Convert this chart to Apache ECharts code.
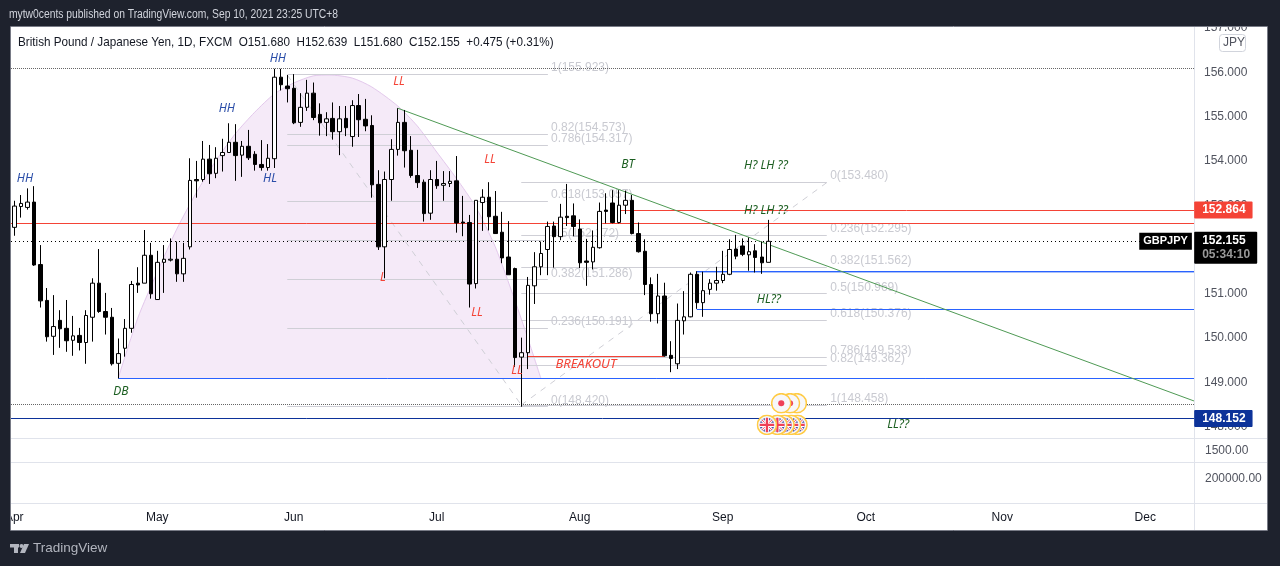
<!DOCTYPE html>
<html><head><meta charset="utf-8">
<style>html,body{margin:0;padding:0;background:#1E222D}#c{width:1280px;height:566px}</style>
<script src="https://cdn.jsdelivr.net/npm/echarts@6/dist/echarts.min.js"></script>
</head><body><div id="c"></div>
<script>
const opens=[152.47,152.94,152.92,153.04,151.63,150.82,150.01,150.37,150.19,149.92,150.03,149.87,150.44,151.21,150.57,150.44,149.40,149.74,150.19,151.21,151.21,151.84,150.84,151.68,151.73,151.75,151.42,152.03,153.55,153.55,154.01,153.69,154.09,154.16,154.39,154.10,154.30,154.12,153.89,153.82,154.02,155.86,155.66,155.61,154.84,155.18,155.50,155.02,154.84,154.93,154.63,154.93,154.52,155.22,154.91,154.77,153.44,152.03,153.55,154.23,154.84,154.21,153.64,153.49,152.79,153.55,153.42,153.46,153.52,152.59,152.58,151.20,153.03,153.15,152.72,152.36,151.80,151.54,149.54,149.64,151.15,151.58,151.97,152.50,152.26,152.72,152.73,152.43,151.71,151.69,152.01,152.86,153.02,152.58,152.97,153.08,152.33,151.93,151.18,150.52,150.92,149.58,149.39,150.36,150.45,151.41,150.77,151.07,151.21,151.27,151.41,151.98,152.05,151.85,151.94,151.80,151.68];
const closes=[152.95,153.01,153.04,151.62,150.81,150.00,150.23,150.18,149.91,150.02,149.87,150.48,151.21,150.57,150.44,149.39,149.62,150.19,151.18,151.17,151.84,150.97,151.68,151.75,151.75,151.42,151.77,153.53,153.52,154.01,153.68,154.03,154.16,154.39,154.09,154.30,154.04,153.89,153.82,154.03,155.86,155.69,155.60,154.83,155.18,155.50,154.95,154.83,154.92,154.63,154.92,154.72,155.22,154.90,154.76,153.43,152.03,153.55,154.23,154.84,154.20,153.64,153.48,152.78,153.55,153.41,153.46,153.51,152.57,152.57,151.19,153.08,153.15,152.71,152.33,151.78,151.40,149.53,149.64,151.16,151.58,151.88,152.49,152.26,152.70,152.69,152.49,151.67,151.68,152.02,152.83,152.83,152.58,152.97,153.08,152.33,151.92,151.18,150.52,150.92,149.57,149.51,150.37,150.45,151.41,150.77,151.04,151.21,151.27,151.41,151.97,151.82,151.86,151.92,151.79,151.67,152.155];
const lows=[152.28,152.69,152.87,151.60,150.66,149.89,149.59,149.75,149.66,149.57,149.69,149.39,149.89,150.54,150.05,149.35,149.06,149.55,150.09,150.99,151.21,150.86,150.83,150.99,151.70,151.24,151.24,151.97,153.14,153.50,153.45,153.58,153.73,154.16,153.52,153.61,153.99,153.75,153.75,153.75,153.81,155.56,155.29,154.80,154.74,155.10,154.89,154.54,154.53,154.45,154.10,154.53,154.29,154.51,154.64,153.14,151.96,151.32,153.07,154.09,153.82,153.59,153.36,152.60,152.64,153.34,153.07,153.38,152.35,152.27,150.66,151.09,152.39,152.40,152.32,151.66,151.40,149.32,148.42,149.27,150.74,151.39,151.39,151.56,152.18,152.50,152.27,151.55,151.15,151.52,151.99,152.56,152.56,152.56,152.77,152.31,151.90,150.94,150.34,150.30,149.55,149.20,149.27,150.05,150.44,150.63,150.45,150.95,151.04,151.21,151.39,151.75,151.82,151.49,151.45,151.42,151.68];
const highs=[153.07,153.20,153.35,153.40,152.07,151.10,150.94,150.60,150.83,150.47,150.20,150.60,151.32,151.98,150.99,150.65,149.96,150.40,151.26,151.57,152.41,152.12,151.94,152.07,152.22,152.15,152.12,154.03,153.97,154.42,154.33,154.28,154.47,154.82,154.80,154.42,154.67,154.19,154.44,154.35,156.05,156.05,155.91,155.93,155.50,155.80,155.74,155.27,155.07,155.29,155.21,155.21,155.34,155.48,155.37,155.00,153.76,153.73,154.46,155.16,155.12,154.53,154.22,153.55,153.76,153.97,153.74,153.74,154.08,153.18,152.75,153.08,153.33,153.49,153.29,152.82,152.61,151.56,149.98,151.35,151.91,152.15,152.60,152.60,153.00,153.45,153.01,152.65,152.21,152.40,153.03,153.24,153.31,153.31,153.30,153.20,152.58,152.20,151.34,151.42,151.22,149.90,150.75,151.03,151.45,151.48,151.47,151.30,151.58,151.94,152.20,152.30,152.22,152.24,152.09,152.15,152.639];

const monthStarts=['2021-04-01','2021-05-03','2021-06-01','2021-07-01','2021-08-02','2021-09-01','2021-10-01','2021-11-01','2021-12-01'];
const monthLabels=['Apr','May','Jun','Jul','Aug','Sep','Oct','Nov','Dec'];
const priceTicks=[148,149,150,151,152,153,154,155,156,157];
const paneTicks=['1500.00','200000.00'];

const arcDays=[16,19,22,25,28,31,34,37,40,43,46,48.5,52,55,59,62,65,68,71,74,77,79,81];
const arcPrices=[149.07,150.42,151.46,152.43,153.25,153.97,154.58,155.07,155.48,155.73,155.89,155.91,155.84,155.64,155.21,154.76,154.17,153.58,152.93,152.03,150.83,149.97,149.07];

const fibLevelsA=[[1,155.923],[0.82,154.573],[0.786,154.317],[0.618,153.057],[0.5,152.172],[0.382,151.286],[0.236,150.191],[0,148.420]];
const fibLevelsB=[[0,153.480],[0.236,152.295],[0.382,151.562],[0.5,150.969],[0.618,150.376],[0.786,149.533],[0.82,149.362],[1,148.458]];
const fibSpanA=[42,82.1], fibSpanB=[78,125];

// [startDay, startPrice, endDay, endPrice]
const hDottedGrey=[[-0.5,156.05,181.5,156.05],[-0.5,148.47,181.5,148.47]];
const hDottedBlack=[[-0.5,152.155,173.5,152.155]];
const redLines=[[93,152.85,181.5,152.85],[-0.5,152.56,181.5,152.56],[79,149.55,100,149.55]];
const blueLines=[[16,149.06,181.5,149.06],[105,151.475,181.5,151.475],[105,150.62,181.5,150.62]];
const lightBlueLines=[[105,151.45,181.5,151.45]];
const navyLines=[[-0.5,148.152,181.5,148.152]];
const greenLines=[[59,155.16,181.5,148.55]];
const greyDashLines=[[42,155.91,78,148.46],[78,148.46,125,153.48]];

const notesBlue=[['HH',1.65,153.58],['HH',32.7,155.16],['HL',39.35,153.58],['HH',40.55,156.29]];
const notesRed=[['LL',59.2,155.75],['L',56.7,151.33],['LL',73.2,153.99],['LL',71.2,150.54],['LL',77.35,149.23],['BREAKOUT',87.95,149.38,13]];
const notesGreen=[['DB',16.4,148.77],['BT',94.4,153.88],['H? LH ??',115.65,153.86],['H? LH ??',115.65,152.84],['HL??',116.1,150.83],['LL??',136,148.01]];

const eventsTop=[[120.4,148.50],[119.35,148.50],[118,148.50]];
const eventsBottom=[[120.5,148.01],[119.5,148.01],[118.5,148.01],[117.4,148.01],[115.8,148.01]];

const tradingDays=[];
for(let d=new Date(Date.UTC(2021,3,1));tradingDays.length<182;d=new Date(d.getTime()+864e5)){
  const w=d.getUTCDay(); if(w!==0&&w!==6) tradingDays.push(d.toISOString().slice(0,10));
}
const FONT='"Liberation Sans", Arial, sans-serif';
const NOTE_FONT='"Noto Sans", sans-serif';
const PX_PER_UNIT=412/(157.016-147.714);
const LABEL_NUDGE=1.4/PX_PER_UNIT;
function crisp(p){const y=(157.016-p)*PX_PER_UNIT;return 157.016-(Math.floor(y)+0.5)/PX_PER_UNIT;}
const series=[];
function addSegs(list,color,type,width,z){
  list.forEach(s=>{
    const flat=s[1]===s[3];
    const a=flat?crisp(s[1]):s[1], b=flat?crisp(s[3]):s[3];
    series.push({type:'line',xAxisIndex:1,yAxisIndex:0,data:[[s[0],a],[s[2],b]],showSymbol:false,symbol:'none',silent:true,z:z,lineStyle:{color:color,type:type,width:width}});
  });
}
series.push({type:'line',xAxisIndex:1,yAxisIndex:0,z:1,silent:true,showSymbol:false,symbol:'none',smooth:0.25,
  data:arcDays.map((d,i)=>[d,arcPrices[i]]),lineStyle:{color:'#E3C8EC',width:1},areaStyle:{color:'#F5EAF8',opacity:1,origin:149.07}});
const fibLines=[];
fibLevelsA.forEach(l=>fibLines.push([fibSpanA[0],l[1],fibSpanA[1],l[1]]));
fibLevelsB.forEach(l=>fibLines.push([fibSpanB[0],l[1],fibSpanB[1],l[1]]));
addSegs(fibLines,'#CFCFD6','solid',1,2);
addSegs(greyDashLines,'#CFCFD6',[6,6],1,2);
function notes(list,color,z,extra){
  series.push({type:'scatter',xAxisIndex:1,yAxisIndex:0,z:z,silent:true,symbolSize:1,itemStyle:{color:'transparent',opacity:1},
    data:list.map(n=>({value:[n[1],n[2]],label:{formatter:n[0],fontSize:n[3]||(extra&&extra.fontSize)||12}})),
    label:Object.assign({show:true,position:'inside',color:color,fontFamily:NOTE_FONT,fontSize:12,fontStyle:'italic'},extra||{})});
}
const fibLab=[];
fibLevelsA.forEach(l=>fibLab.push([l[0]+'('+l[1].toFixed(3)+')',fibSpanA[1]+0.4,l[1]]));
fibLevelsB.forEach(l=>fibLab.push([l[0]+'('+l[1].toFixed(3)+')',fibSpanB[1]+0.45,l[1]]));
notes(fibLab,'#C9CAD1',3,{position:'right',distance:0,offset:[0,-6.5],fontStyle:'normal',fontFamily:FONT});
series.push({type:'candlestick',xAxisIndex:0,yAxisIndex:0,z:6,barWidth:4,
  data:opens.map((o,i)=>[o,closes[i],lows[i],highs[i]]),
  itemStyle:{color:'#FFFFFF',color0:'#000000',borderColor:'#000000',borderColor0:'#000000',borderWidth:1}});
addSegs(hDottedGrey,'#666','dotted',1,4);
addSegs(hDottedBlack,'#000',[1,3],1,4);
addSegs(redLines,'#F44336','solid',1,4);
addSegs(lightBlueLines,'#A9C0FA','solid',1,4);
addSegs(blueLines,'#2962FF','solid',1,4);
addSegs(navyLines,'#0C3299','solid',1,4);
addSegs(greenLines,'#4F9A55','solid',1,5);
notes(notesBlue,'#2A4DA8',7);
notes(notesRed,'#F44336',7);
notes(notesGreen,'#1B5E20',7);

const dot='data:image/svg+xml,'+encodeURIComponent('<svg xmlns="http://www.w3.org/2000/svg" width="44" height="44" viewBox="0 0 22 22"><circle cx="11" cy="11" r="10" fill="#F7F7FA" stroke="#FFCB45" stroke-width="1.6"/><circle cx="11" cy="11" r="3.2" fill="#EF4058"/></svg>');
const jack='data:image/svg+xml,'+encodeURIComponent('<svg xmlns="http://www.w3.org/2000/svg" width="44" height="44" viewBox="0 0 22 22"><defs><clipPath id="k"><circle cx="11" cy="11" r="7.6"/></clipPath></defs><circle cx="11" cy="11" r="10" fill="#F7F7FA" stroke="#FFCB45" stroke-width="1.6"/><g clip-path="url(#k)"><rect width="22" height="22" fill="#4A55A8"/><path d="M0 0L22 22M22 0L0 22" stroke="#fff" stroke-width="3"/><path d="M0 0L22 22M22 0L0 22" stroke="#EF4058" stroke-width="1"/><path d="M11 0V22M0 11H22" stroke="#fff" stroke-width="4.4"/><path d="M11 0V22M0 11H22" stroke="#EF4058" stroke-width="2.4"/></g></svg>');
series.push({type:'scatter',xAxisIndex:1,yAxisIndex:0,z:8,silent:true,symbol:'image://'+dot,symbolSize:21,itemStyle:{opacity:1},data:eventsTop});
series.push({type:'scatter',xAxisIndex:1,yAxisIndex:0,z:8,silent:true,symbol:'image://'+jack,symbolSize:21,itemStyle:{opacity:1},data:eventsBottom});

const TAGX=181.45;
function tag(value,text,bg,extra){
  series.push({type:'scatter',xAxisIndex:1,yAxisIndex:0,z:20,silent:true,symbolSize:1,itemStyle:{color:'transparent',opacity:1},
    data:[{value:[TAGX,value]}],
    label:Object.assign({show:true,position:'right',distance:0,formatter:text,color:'#fff',backgroundColor:bg,padding:[3,7,2,8],fontFamily:FONT,fontSize:12,fontWeight:'bold',borderRadius:1,lineHeight:12},extra||{})});
}
tag(152.864,'152.864','#F44336');
tag(148.152,'148.152','#0C3299');
tag(152.155,'{a|152.155}\n{b|05:34:10}','#000',{padding:[2,7,2,8],rich:{a:{color:'#fff',fontWeight:'bold',fontSize:12,lineHeight:14,fontFamily:FONT},b:{color:'#9a9a9a',fontWeight:'bold',fontSize:12,lineHeight:14,fontFamily:FONT}},offset:[0,6.5]});
series.push({type:'scatter',xAxisIndex:1,yAxisIndex:0,z:20,silent:true,symbolSize:1,itemStyle:{color:'transparent',opacity:1},
  data:[{value:[181.25,152.155]}],
  label:{show:true,position:'left',distance:0,formatter:'GBPJPY',color:'#fff',backgroundColor:'#000',padding:[3,4,2,4],fontFamily:FONT,fontSize:11,fontWeight:'bold',lineHeight:12}});

const FRAME='#1E222D';
const g=[];
g.push({type:'rect',z:-1,silent:true,shape:{x:11,y:26,width:1256,height:504},style:{fill:'#fff'}});
[[0,0,1280,26],[0,0,11,566],[1267,0,13,566],[0,530,1280,36]].forEach(r=>g.push({type:'rect',z:100,silent:true,shape:{x:r[0],y:r[1],width:r[2],height:r[3]},style:{fill:FRAME}}));
g.push({type:'rect',z:101,silent:true,shape:{x:10.5,y:26.5,width:1257,height:504},style:{fill:'none',stroke:'#787B86',lineWidth:1}});
[438.5,462.5,503.5].forEach(y=>g.push({type:'line',z:0,silent:true,shape:{x1:11,y1:y,x2:1267,y2:y},style:{stroke:'#E0E3EB',lineWidth:1}}));
g.push({type:'line',z:0,silent:true,shape:{x1:1194.5,y1:26,x2:1194.5,y2:530},style:{stroke:'#E0E3EB',lineWidth:1}});
function txt(x,y,s,fill,size,weight,z,sx){g.push({type:'text',z:z||101,silent:true,x:x,y:y,scaleX:sx||1,style:{text:s,fill:fill,font:(weight||'normal')+' '+size+'px '+FONT,textVerticalAlign:'middle',textBaseline:'middle'}});}
txt(9,15,'mytw0cents published on TradingView.com, Sep 10, 2021 23:25 UTC+8','#D1D4DC',12,'normal',101,0.86);
txt(18,42,'British Pound / Japanese Yen, 1D, FXCM  O151.680  H152.639  L151.680  C152.155  +0.475 (+0.31%)','#131722',13,'normal',101,0.9);
txt(1205,451,paneTicks[0],'#50535E',12,'normal',10);
txt(1205,479,paneTicks[1],'#50535E',12,'normal',10);
g.push({type:'rect',z:10,silent:true,shape:{x:1219.5,y:34.5,width:26,height:17,r:3},style:{fill:'#fff',stroke:'#D1D4DC',lineWidth:1}});
txt(1223,43,'JPY','#50535E',12,'normal',11);
g.push({type:'rect',z:101,silent:true,shape:{x:10,y:544,width:9,height:3.5},style:{fill:'#B2B5BE'}});
g.push({type:'rect',z:101,silent:true,shape:{x:14,y:544,width:4,height:9},style:{fill:'#B2B5BE'}});
g.push({type:'circle',z:101,silent:true,shape:{cx:21.5,cy:546,r:2},style:{fill:'#B2B5BE'}});
g.push({type:'polygon',z:101,silent:true,shape:{points:[[24,544],[29,544],[25,553],[20,553]]},style:{fill:'#B2B5BE'}});
txt(33,548,'TradingView','#B2B5BE',13.5,'normal');

const chart=echarts.init(document.getElementById('c'),null,{renderer:'canvas'});
chart.setOption({
  animation:false,backgroundColor:FRAME,
  grid:{left:11,right:86,top:26,bottom:128,containLabel:false},
  xAxis:[
    {type:'category',data:tradingDays,boundaryGap:true,axisLine:{show:false},axisTick:{show:false},splitLine:{show:false},
     axisLabel:{show:true,margin:74,hideOverlap:false,fontFamily:FONT,fontSize:12,color:'#131722',
       interval:(i,v)=>monthStarts.indexOf(v)>=0,
       formatter:v=>monthLabels[monthStarts.indexOf(v)]}},
    {type:'value',min:-0.5,max:181.5,show:false}
  ],
  yAxis:[{type:'value',position:'right',min:147.714,max:157.016,scale:true,splitLine:{show:false},axisLine:{show:false},axisTick:{show:false},
    axisLabel:{customValues:priceTicks.map(v=>v-LABEL_NUDGE),formatter:v=>Math.round(v).toFixed(3),margin:10,fontFamily:FONT,fontSize:12,color:'#50535E'}}],
  graphic:{elements:g},
  series:series
});
</script></body></html>
